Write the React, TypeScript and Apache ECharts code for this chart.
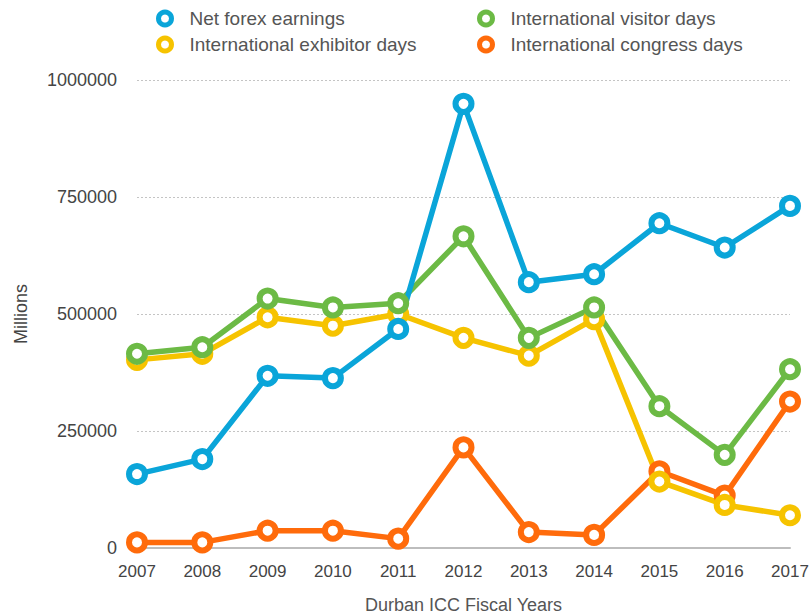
import React, { useEffect, useRef } from "react";
import * as echarts from "echarts";

const years = ["2007", "2008", "2009", "2010", "2011", "2012", "2013", "2014", "2015", "2016", "2017"];
const netForex = [158000, 190000, 368000, 363000, 468000, 949000, 568000, 585000, 694000, 642000, 731000];
const visitorDays = [415000, 429000, 533000, 514000, 523000, 666000, 449000, 514000, 303000, 199000, 382000];
const exhibitorDays = [402000, 415000, 493000, 475000, 500000, 449000, 411000, 489000, 142000, 92000, 70000];
const congressDays = [12000, 12000, 37000, 37000, 20000, 215000, 34000, 28000, 164000, 112000, 313000];

const NAMES = {
  forex: "Net forex earnings",
  visitor: "International visitor days",
  exhibitor: "International exhibitor days",
  congress: "International congress days",
};
const COLORS = {
  forex: "#0aa5d9",
  visitor: "#6cba45",
  exhibitor: "#f6c300",
  congress: "#ff6b0b",
};

const FONT = "'Liberation Sans', Arial, sans-serif";
const TEXT = "#555555";

function mkSeries(name: string, data: number[], color: string) {
  return {
    name,
    type: "line",
    data,
    symbol: "circle",
    symbolSize: 16,
    lineStyle: { color, width: 5.5 },
    itemStyle: { color: "#ffffff", borderColor: color, borderWidth: 6 },
    emphasis: { disabled: true },
  };
}

function mkLegend(name: string, color: string, left: number, top: number) {
  return {
    data: [name],
    left,
    top,
    padding: 0,
    icon: "circle",
    itemWidth: 13,
    itemHeight: 13,
    selectedMode: false,
    itemStyle: { color: "#ffffff", borderColor: color, borderWidth: 5 },
    textStyle: { color: TEXT, fontSize: 19, fontFamily: FONT, padding: [0, 0, 0, 13] },
  };
}

export default function App() {
  const ref = useRef<HTMLDivElement>(null);
  useEffect(() => {
    if (!ref.current) return;
    const chart = echarts.init(ref.current, undefined, { renderer: "svg" });
    chart.setOption({
      animation: false,
      backgroundColor: "#ffffff",
      legend: [
        mkLegend(NAMES.forex, COLORS.forex, 156, 9),
        mkLegend(NAMES.visitor, COLORS.visitor, 477, 9),
        mkLegend(NAMES.exhibitor, COLORS.exhibitor, 156, 35),
        mkLegend(NAMES.congress, COLORS.congress, 477, 35),
      ],
      grid: { left: 137, right: 21, top: 80, bottom: 66, containLabel: false, outerBoundsMode: "none" },
      xAxis: {
        type: "category",
        data: years,
        boundaryGap: false,
        name: "Durban ICC Fiscal Years",
        nameLocation: "middle",
        nameGap: 48,
        nameTextStyle: { color: TEXT, fontSize: 18, fontFamily: FONT },
        axisLine: { lineStyle: { color: "#bdbdbd", width: 2 } },
        axisTick: { show: false },
        axisLabel: { color: "#444", fontSize: 17, fontFamily: FONT, margin: 15 },
        splitLine: { show: false },
      },
      yAxis: {
        type: "value",
        min: 0,
        max: 1000000,
        interval: 250000,
        name: "Millions",
        nameLocation: "middle",
        nameGap: 107,
        nameRotate: 90,
        nameTextStyle: { color: "#444", fontSize: 18, fontFamily: FONT },
        axisLine: { show: false },
        axisTick: { show: false },
        axisLabel: {
          color: "#444",
          fontSize: 18,
          fontFamily: FONT,
          margin: 20,
          formatter: (v: number) => String(v),
        },
        splitLine: { lineStyle: { color: "#c4c4c4", type: [2, 2], width: 1 } },
      },
      series: [
        mkSeries(NAMES.congress, congressDays, COLORS.congress),
        mkSeries(NAMES.exhibitor, exhibitorDays, COLORS.exhibitor),
        mkSeries(NAMES.visitor, visitorDays, COLORS.visitor),
        mkSeries(NAMES.forex, netForex, COLORS.forex),
      ],
    });
    return () => chart.dispose();
  }, []);
  return (
    <div
      ref={ref}
      style={{ position: "fixed", left: 0, top: 0, width: 811, height: 614, background: "#fff" }}
    />
  );
}
